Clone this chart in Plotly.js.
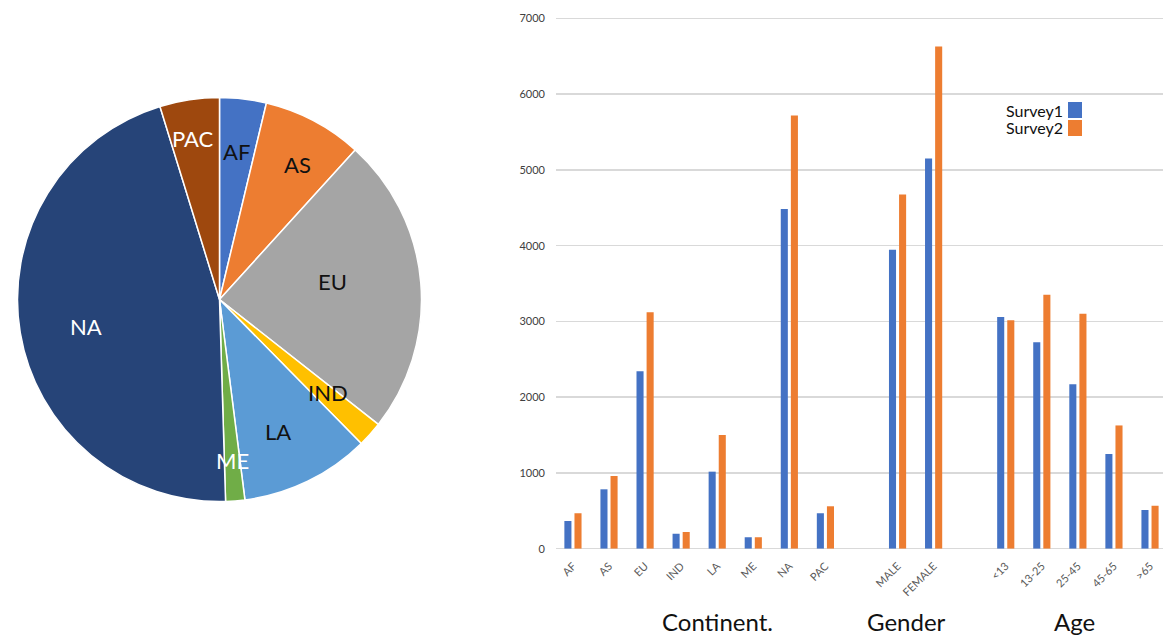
<!DOCTYPE html>
<html>
<head>
<meta charset="utf-8">
<script src="https://cdn.plot.ly/plotly-3.0.1.min.js"></script>
<style>html,body{margin:0;padding:0;background:#fff;}#chart{width:1165px;height:638px;}</style>
</head>
<body>
<div id="chart"></div>
<script>
// ---- data ----
const continentCats = ['AF','AS','EU','IND','LA','ME','NA','PAC'];
const genderCats = ['MALE','FEMALE'];
const ageCats = ['<13','13-25','25-45','45-65','>65'];
const survey1Continent = [366,784,2342,198,1017,150,4484,467];
const survey2Continent = [467,960,3121,220,1501,150,5720,560];
const survey1Gender = [3945,5150];
const survey2Gender = [4675,6630];
const survey1Age = [3058,2725,2172,1250,510];
const survey2Age = [3015,3353,3102,1627,567];
const groupNames = ['Continent.','Gender','Age'];
const seriesNames = ['Survey1','Survey2'];
// pie shows Survey1 by continent
const pieLabels = continentCats;
const pieValues = survey1Continent;

// ---- styles ----
const pieColors = ['#4472C4','#ED7D31','#A5A5A5','#FFC000','#5B9BD5','#70AD47','#264478','#9E480E'];
const pieTextColors = ['#111','#111','#111','#111','#111','#fff','#fff','#fff'];
const pieLabelPos = [[236.7,151.7],[297.7,164],[332.7,281.7],[328.3,392.7],[278.3,431.7],[232.3,460],[85.7,326],[193.3,138.3]];
const seriesColors = ['#4472C4','#ED7D31'];
const W = 1165, H = 638;
const font = 'Lato, "Liberation Sans", sans-serif';

// build slot positions with one empty slot between groups
const groups = [
  {cats: continentCats, s1: survey1Continent, s2: survey2Continent},
  {cats: genderCats, s1: survey1Gender, s2: survey2Gender},
  {cats: ageCats, s1: survey1Age, s2: survey2Age}
];
let xs = [], labels = [], v1 = [], v2 = [];
let pos = 0;
groups.forEach((g) => {
  g.cats.forEach((c, i) => {
    xs.push(pos); labels.push(c); v1.push(g.s1[i]); v2.push(g.s2[i]); pos++;
  });
  pos++;
});
const esc = s => s.replace(/&/g,'&amp;').replace(/</g,'&lt;').replace(/>/g,'&gt;');
const groupLabelX = [4.0, 9.26, 13.9];

const data = [
  {
    type: 'pie', labels: pieLabels, values: pieValues, sort: false, direction: 'clockwise',
    rotation: 0, marker: {colors: pieColors, line: {color: '#fff', width: 1.5}},
    textinfo: 'none', hoverinfo: 'label+value+percent',
    domain: {x: [17.5/W, 421.5/W], y: [1-501.5/H, 1-97.5/H]}, showlegend: false
  },
  {type: 'bar', name: seriesNames[0], x: xs, y: v1, marker: {color: seriesColors[0]}, xaxis: 'x', yaxis: 'y', showlegend: false},
  {type: 'bar', name: seriesNames[1], x: xs, y: v2, marker: {color: seriesColors[1]}, xaxis: 'x', yaxis: 'y', showlegend: false}
];

const annotations = [];
pieLabels.forEach((l, i) => {
  annotations.push({xref: 'paper', yref: 'paper', x: pieLabelPos[i][0]/W, y: 1 - pieLabelPos[i][1]/H,
    text: l, showarrow: false, xanchor: 'center', yanchor: 'middle',
    font: {family: font, size: 22, color: pieTextColors[i]}});
});
groupNames.forEach((n, i) => {
  annotations.push({xref: 'x', yref: 'paper', x: groupLabelX[i], y: 1 - 621/H, text: n, showarrow: false,
    xanchor: 'center', yanchor: 'middle', font: {family: font, size: 24, color: '#111'}});
});
// legend (text left, swatch right)
seriesNames.forEach((n, i) => {
  annotations.push({xref: 'paper', yref: 'paper', x: 1065/W, y: 1 - (110 + i*18)/H, text: n, showarrow: false,
    xanchor: 'right', yanchor: 'middle', font: {family: font, size: 16, color: '#111'}});
});
const shapes = seriesNames.map((n, i) => ({type: 'rect', xref: 'paper', yref: 'paper',
  x0: 1068/W, x1: 1082/W, y0: 1 - (118 + i*18)/H, y1: 1 - (102 + i*18)/H,
  fillcolor: seriesColors[i], line: {width: 0}}));

const layout = {
  width: W, height: H, margin: {l: 0, r: 0, t: 0, b: 0},
  paper_bgcolor: '#fff', plot_bgcolor: '#fff',
  barmode: 'group', bargap: 0.44, bargroupgap: 0.3,
  xaxis: {domain: [556/W, 1163/W], range: [-0.47, 16.36], tickmode: 'array', tickvals: xs,
    ticktext: labels.map(esc), tickangle: -45, showgrid: false, zeroline: false, showline: false, ticks: '',
    ticklabelstandoff: 8,
    tickfont: {family: font, size: 11, color: '#595959'}, fixedrange: true},
  yaxis: {domain: [1-548.7/H, 1-14.66/H], range: [0, 7050], tickmode: 'array',
    tickvals: [0,1000,2000,3000,4000,5000,6000,7000], ticktext: ['0','1000','2000','3000','4000','5000','6000','7000'],
    showgrid: true, gridcolor: '#d9d9d9', gridwidth: 1.5, zeroline: true, zerolinecolor: '#d9d9d9', zerolinewidth: 1.5,
    showline: false, ticks: '', ticklabelstandoff: 10,
    tickfont: {family: font, size: 11, color: '#404040'}, fixedrange: true},
  annotations: annotations, shapes: shapes, showlegend: false
};
Plotly.newPlot('chart', data, layout, {displayModeBar: false, staticPlot: true});
</script>
</body>
</html>
